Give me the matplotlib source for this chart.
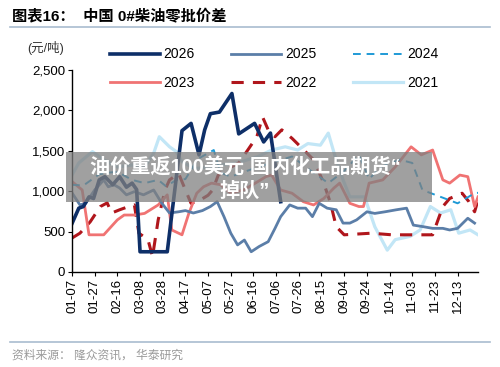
import datetime as dt
import matplotlib
matplotlib.use("Agg")
import matplotlib.pyplot as plt
from matplotlib.patches import Rectangle

plt.rcParams["font.family"] = ["Liberation Sans", "Noto Sans CJK SC", "DejaVu Sans"]

# MM-DD dates and values (元/吨)
d2026 = ["01-07", "01-13", "01-17", "01-22", "01-26", "01-31", "02-05", "02-12", "02-18",
         "02-24", "03-01", "03-05", "03-08", "04-01", "04-14", "04-22", "04-29", "05-04",
         "05-09", "05-17", "05-28", "06-03", "06-17", "06-25", "07-01", "07-10"]
v2026 = [600, 790, 810, 930, 910, 1140, 1180, 1080, 1180,
         1050, 1100, 1020, 250, 250, 1750, 1840, 1450, 1760,
         1960, 1980, 2210, 1710, 1840, 1610, 1720, 870]

d2025 = ["01-07", "01-14", "01-19", "01-27", "02-04", "02-08", "02-13", "02-18", "02-24",
         "03-03", "03-11", "03-20", "03-27", "04-03", "04-11", "04-17", "04-24", "05-02",
         "05-09", "05-15", "05-21", "05-27", "06-02", "06-08", "06-14", "06-21", "06-29",
         "07-05", "07-10", "07-18", "07-25", "08-01", "08-07", "08-13", "08-20", "08-28",
         "09-03", "09-09", "09-15", "09-24", "10-01", "10-10", "10-20", "10-29", "11-04",
         "11-13", "11-21", "11-30", "12-06", "12-13", "12-22", "12-28"]
v2025 = [980, 830, 850, 1015, 1140, 1055, 1080, 1040, 955,
         995, 955, 1015, 855, 730, 745, 760, 730, 760,
         810, 870, 685, 480, 335, 395, 250, 315, 375,
         540, 685, 830, 790, 790, 685, 850, 790, 770,
         605, 605, 645, 745, 725, 745, 770, 790, 580,
         560, 540, 540, 520, 540, 665, 605]

d2024 = ["01-07", "01-17", "01-24", "01-31", "02-08", "02-16", "03-01", "03-12", "03-24",
         "03-31", "04-09", "04-17", "04-28", "05-12", "05-18", "05-27", "06-08", "06-20",
         "07-02", "07-20", "08-05", "08-21", "09-04", "09-17", "09-26", "10-06", "10-23",
         "11-03", "11-12", "11-28", "12-13", "12-28", "12-31"]
v2024 = [1080, 1070, 1140, 1210, 1230, 1240, 1140, 1100, 1140,
         1060, 1140, 1150, 1400, 1510, 1230, 1180, 1240, 1300,
         1350, 1430, 1260, 1100, 1250, 1450, 1150, 1300, 1390,
         1350, 1015, 930, 850, 975, 980]

d2023 = ["01-07", "01-16", "01-22", "02-04", "02-16", "02-22", "03-03", "03-12", "03-24",
         "04-01", "04-05", "04-14", "04-20", "04-27", "05-03", "05-10", "05-18", "05-27",
         "06-08", "06-20", "06-27", "07-02", "07-10", "07-20", "07-30", "08-08", "08-17",
         "08-26", "08-31", "09-09", "09-17", "09-21", "09-26", "10-08", "10-19", "11-02",
         "11-11", "11-21", "11-30", "12-06", "12-15", "12-22", "12-28", "12-31"]
v2023 = [1120, 1015, 460, 460, 645, 705, 705, 725, 830,
         955, 520, 460, 725, 975, 1055, 1100, 1080, 975,
         1020, 1120, 1180, 1200, 1015, 975, 870, 830, 910,
         1040, 1100, 850, 810, 810, 1100, 1140, 1300, 1550,
         1450, 1510, 1140, 1100, 1200, 1180, 810, 930]

d2022 = ["01-07", "01-14", "01-23", "02-01", "02-07", "02-11", "02-18", "02-26", "03-03",
         "03-07", "03-15", "03-19", "03-24", "03-30", "04-03", "04-11", "04-17", "04-22",
         "04-30", "05-07", "05-11", "05-16", "05-22", "06-03", "06-11", "06-19", "06-24",
         "06-29", "07-05", "07-11", "07-20", "07-29", "08-08", "08-17", "08-23", "08-28",
         "09-04", "09-28", "10-16", "11-21", "11-30", "12-06", "12-17", "12-23", "12-28",
         "12-31"]
v2022 = [420, 480, 620, 810, 855, 730, 770, 810, 830,
         480, 400, 190, 645, 1015, 1140, 1220, 1015, 850,
         890, 950, 1015, 1200, 1260, 1350, 1510, 1675, 1920,
         1760, 1675, 1760, 1655, 1530, 1390, 1100, 850, 560,
         460, 480, 460, 460, 810, 910, 975, 870, 745,
         890]

d2021 = ["01-07", "01-13", "01-25", "02-04", "02-16", "03-01", "03-12", "03-20", "03-25",
         "04-03", "04-09", "04-14", "04-25", "05-08", "05-21", "06-02", "06-20", "07-02",
         "07-14", "07-25", "08-03", "08-14", "08-21", "08-27", "09-03", "09-09", "09-22",
         "10-01", "10-12", "10-19", "11-01", "11-10", "11-19", "11-28", "12-07", "12-14",
         "12-24", "12-31"]
v2021 = [1200, 1350, 1490, 1390, 1300, 1325, 1300, 1470, 1675,
         1550, 1490, 1365, 1280, 1300, 1330, 1350, 1430, 1510,
         1550, 1510, 1590, 1570, 1720, 1430, 1140, 930, 930,
         560, 270, 400, 440, 520, 810, 730, 770, 480,
         520, 460]

tick_labels = ["01-07", "01-27", "02-16", "03-08", "03-28", "04-17", "05-07", "05-27",
               "06-16", "07-06", "07-26", "08-15", "09-04", "09-24", "10-14", "11-03",
               "11-23", "12-13"]


def to_day(md):
    m, d = md.split("-")
    return (dt.date(2021, int(m), int(d)) - dt.date(2021, 1, 7)).days


series = [
    ("2021", d2021, v2021, dict(color="#c2e6f6", lw=2.3, ls="-")),
    ("2022", d2022, v2022, dict(color="#b0161c", lw=2.2, ls=(0, (4, 3)))),
    ("2023", d2023, v2023, dict(color="#f07373", lw=2.0, ls="-")),
    ("2024", d2024, v2024, dict(color="#1f9ad6", lw=1.4, ls=(0, (4, 3)))),
    ("2025", d2025, v2025, dict(color="#5b7ea8", lw=2.0, ls="-")),
    ("2026", d2026, v2026, dict(color="#0e2f68", lw=2.6, ls="-")),
]

fig = plt.figure(figsize=(5.0, 3.67), dpi=100)
ax = fig.add_axes([0.144, 0.259, 0.812, 0.55])

handles = {}
for name, dates, vals, style in series:
    (ln,) = ax.plot([to_day(d) for d in dates], vals, label=name, **style)
    handles[name] = ln

ax.set_ylim(0, 2500)
ax.set_xlim(0, 358)
ax.set_yticks([0, 500, 1000, 1500, 2000, 2500])
ax.set_yticklabels(["0", "500", "1,000", "1,500", "2,000", "2,500"])
ax.set_xticks([to_day(t) for t in tick_labels])
ax.set_xticklabels(tick_labels, rotation=90)
ax.tick_params(labelsize=9.5, length=3, width=0.8, direction="out", pad=2)
for s in ["top", "right"]:
    ax.spines[s].set_visible(False)
for s in ["left", "bottom"]:
    ax.spines[s].set_linewidth(1.0)

order = ["2026", "2023", "2025", "2022", "2024", "2021"]
fig.legend([handles[k] for k in order], order, ncol=3, frameon=False,
           loc="upper left", bbox_to_anchor=(0.194, 0.905), fontsize=10,
           handlelength=3.6, labelspacing=1.05, columnspacing=2.6, handletextpad=0.3)

fig.text(0.054, 0.858, "(元/吨)", fontsize=9, color="#333333")

fig.text(0.024, 0.955, "图表16：  中国 0#柴油零批价差", fontsize=11, fontweight="bold",
         va="center", ha="left")
fig.add_artist(plt.Line2D([0.02, 0.98], [0.926, 0.926], color="#a9bccf", lw=1.2))
fig.add_artist(plt.Line2D([0.02, 0.98], [0.068, 0.068], color="#a9bccf", lw=1.2))
fig.text(0.024, 0.032, "资料来源： 隆众资讯， 华泰研究", fontsize=8.5, color="#9a9a9a",
         va="center", ha="left")

# gray overlay banner
fig.add_artist(Rectangle((0.132, 1 - 202 / 367), 0.732, 50 / 367, transform=fig.transFigure,
                         facecolor="#808080", alpha=0.75, edgecolor="none", zorder=5))
fig.text(0.49, 1 - 168 / 367, "油价重返100美元 国内化工品期货“", fontsize=14.5,
         fontweight="bold", color="white", ha="center", va="center", zorder=6)
fig.text(0.49, 1 - 191 / 367, "掉队”", fontsize=14.5,
         fontweight="bold", color="white", ha="center", va="center", zorder=6)

fig.savefig("out.png", dpi=100)
